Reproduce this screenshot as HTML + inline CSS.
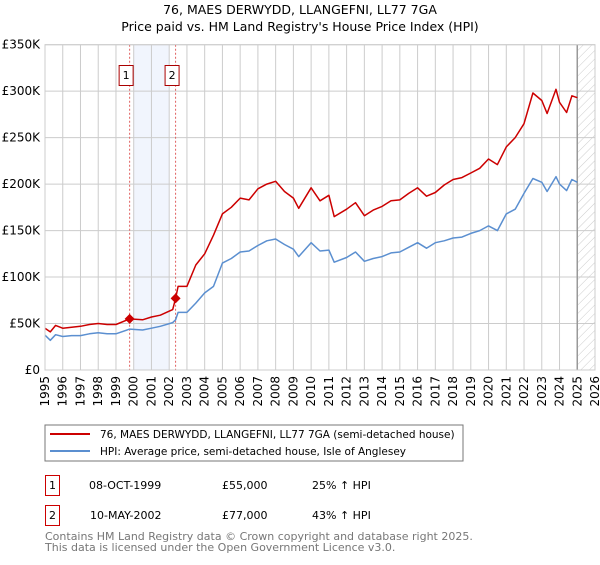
<!DOCTYPE html>
<html><head><meta charset="utf-8"><style>
body{margin:0;background:#fff;}
svg text{font-family:"DejaVu Sans","Liberation Sans",sans-serif;}
</style></head><body>
<svg id="c" width="600" height="560" xmlns="http://www.w3.org/2000/svg">
<defs><pattern id="hatch" width="6" height="6" patternUnits="userSpaceOnUse" patternTransform="rotate(45)"><line x1="0" y1="0" x2="0" y2="6" stroke="#ccc" stroke-width="1"/></pattern></defs>
<text x="300" y="14" text-anchor="middle" font-size="12.5">76, MAES DERWYDD, LLANGEFNI, LL77 7GA</text>
<text x="300" y="31" text-anchor="middle" font-size="12.5">Price paid vs. HM Land Registry's House Price Index (HPI)</text>
<g id="grid"></g><g id="marks"></g><g id="axes"></g>
<rect x="45" y="425" width="418" height="36" fill="#fff" stroke="#777"/>
<line x1="50" y1="434" x2="90" y2="434" stroke="#cc0000" stroke-width="2"/>
<text x="100" y="438" font-size="10.5">76, MAES DERWYDD, LLANGEFNI, LL77 7GA (semi-detached house)</text>
<line x1="50" y1="451" x2="90" y2="451" stroke="#5b8fd0" stroke-width="2"/>
<text x="100" y="455" font-size="10.5">HPI: Average price, semi-detached house, Isle of Anglesey</text>
<g font-size="11">
<rect x="45.5" y="475.5" width="14" height="20" fill="#fff" stroke="#cc0000"/><text x="52.5" y="489" text-anchor="middle">1</text>
<text x="89" y="489">08-OCT-1999</text><text x="222" y="489">£55,000</text><text x="312" y="489">25% ↑ HPI</text></g>
<g font-size="11">
<rect x="45.5" y="505.5" width="14" height="20" fill="#fff" stroke="#cc0000"/><text x="52.5" y="519" text-anchor="middle">2</text>
<text x="90" y="519">10-MAY-2002</text><text x="222" y="519">£77,000</text><text x="312" y="519">43% ↑ HPI</text></g>
<text x="45" y="540" font-size="11" fill="#777">Contains HM Land Registry data © Crown copyright and database right 2025.</text>
<text x="45" y="551" font-size="11" fill="#777">This data is licensed under the Open Government Licence v3.0.</text>
</svg>
<script>
const hpiYears=[1995,1995.3,1995.6,1996,1996.5,1997,1997.5,1998,1998.5,1999,1999.77,2000.5,2001,2001.5,2002.2,2002.36,2002.5,2003,2003.5,2004,2004.5,2005,2005.5,2006,2006.5,2007,2007.5,2008,2008.5,2009,2009.3,2010,2010.5,2011,2011.3,2012,2012.5,2013,2013.5,2014,2014.5,2015,2015.5,2016,2016.5,2017,2017.5,2018,2018.5,2019,2019.5,2020,2020.5,2021,2021.5,2022,2022.5,2023,2023.3,2023.8,2024,2024.4,2024.7,2025];
const hpiValues=[37.6,32,38,36,37,37,39,40,39,39,44,43,45,47,51,54,62,62,72,83,90,115,120,127,128,134,139,141,135,130,122,137,128,129,116,121,127,117,120,122,126,127,132,137,131,137,139,142,143,147,150,155,150,168,173,190,206,202,192,208,200,193,205,202];
const priceYears=hpiYears;
const priceValues=[45,41,48,45,46,47,49,50,49,49,55,54,57,59,65,77,90,90,113,125,145,168,175,185,183,195,200,203,192,185,174,196,182,188,165,173,180,166,172,176,182,183,190,196,187,191,199,205,207,212,217,227,221,240,250,265,298,290,276,302,288,277,295,293];
const yTicks=[0,50,100,150,200,250,300,350];
const yTickLabels=["£0","£50K","£100K","£150K","£200K","£250K","£300K","£350K"];
const xTicks=[1995,1996,1997,1998,1999,2000,2001,2002,2003,2004,2005,2006,2007,2008,2009,2010,2011,2012,2013,2014,2015,2016,2017,2018,2019,2020,2021,2022,2023,2024,2025,2026];
const saleYears=[1999.77,2002.36];
const saleValues=[55,77];
const saleLabels=["1","2"];
const shadeRange=[2000,2002];
const dataEnd=2025;

const X0=45,X1=595,Y0=370,Y1=44.7;
const xs=y=>X0+(y-1995)/(2026-1995)*(X1-X0);
const ys=v=>Y0-(v/350)*(Y0-Y1);
const NS="http://www.w3.org/2000/svg";
function mk(tag,attrs,parent){const e=document.createElementNS(NS,tag);for(const k in attrs)e.setAttribute(k,attrs[k]);parent.appendChild(e);return e;}
const grid=document.getElementById('grid'),marks=document.getElementById('marks'),axes=document.getElementById('axes');
let sh=mk('rect',{x:xs(shadeRange[0]),y:Y1,width:xs(shadeRange[1])-xs(shadeRange[0]),height:Y0-Y1,fill:'#eef3fc',opacity:0.8},grid);


xTicks.forEach(t=>{const l=mk('line',{x1:xs(t),x2:xs(t),y1:Y1,y2:Y0,stroke:'#ccc'},grid);


const tx=mk('text',{transform:`translate(${xs(t)+4},${Y0+6}) rotate(-90)`,'text-anchor':'end','font-size':'12'},axes);tx.textContent=t;

});
yTicks.forEach((t,i)=>{const l=mk('line',{x1:X0,x2:X1,y1:ys(t),y2:ys(t),stroke:'#ccc'},grid);


const tx=mk('text',{x:X0-5,y:ys(t)+4,'text-anchor':'end','font-size':'12'},axes);tx.textContent=yTickLabels[i];

});
const hr=mk('rect',{x:xs(dataEnd),y:Y1,width:X1-xs(dataEnd),height:Y0-Y1,fill:'url(#hatch)'},grid);


const el=mk('line',{x1:xs(dataEnd),x2:xs(dataEnd),y1:Y1,y2:Y0,stroke:'#999','stroke-width':1.5},grid);


saleYears.forEach((s,i)=>{const l=mk('line',{x1:xs(s),x2:xs(s),y1:Y1,y2:Y0,stroke:'#e06060','stroke-dasharray':'2,2'},grid);


const g=mk('g',{},axes);


mk('rect',{x:xs(s)-10.5,y:65.5,width:14,height:20,fill:'#fff',stroke:'#aa0000'},g);
const t=mk('text',{x:xs(s)-3.5,y:79,'text-anchor':'middle','font-size':'11'},g);t.textContent=saleLabels[i];});
function path(xv,yv,color,name){const d=xv.map((x,i)=>(i?'L':'M')+xs(x).toFixed(1)+','+ys(yv[i]).toFixed(1)).join('');
const p=mk('path',{d:d,fill:'none',stroke:color,'stroke-width':1.5,'stroke-linejoin':'round'},marks);

}
path(hpiYears,hpiValues,'#5b8fd0','hpi-line');
path(priceYears,priceValues,'#cc0000','property-price-line');
saleYears.forEach((s,i)=>{const cx=xs(s),cy=ys(saleValues[i]);
const p=mk('path',{d:`M${cx},${cy-5}L${cx+5},${cy}L${cx},${cy+5}L${cx-5},${cy}Z`,fill:'#cc0000'},marks);

});
const fr=mk('rect',{x:X0,y:Y1,width:X1-X0,height:Y0-Y1,fill:'none',stroke:'#ccc'},axes);


</script>
</body></html>
